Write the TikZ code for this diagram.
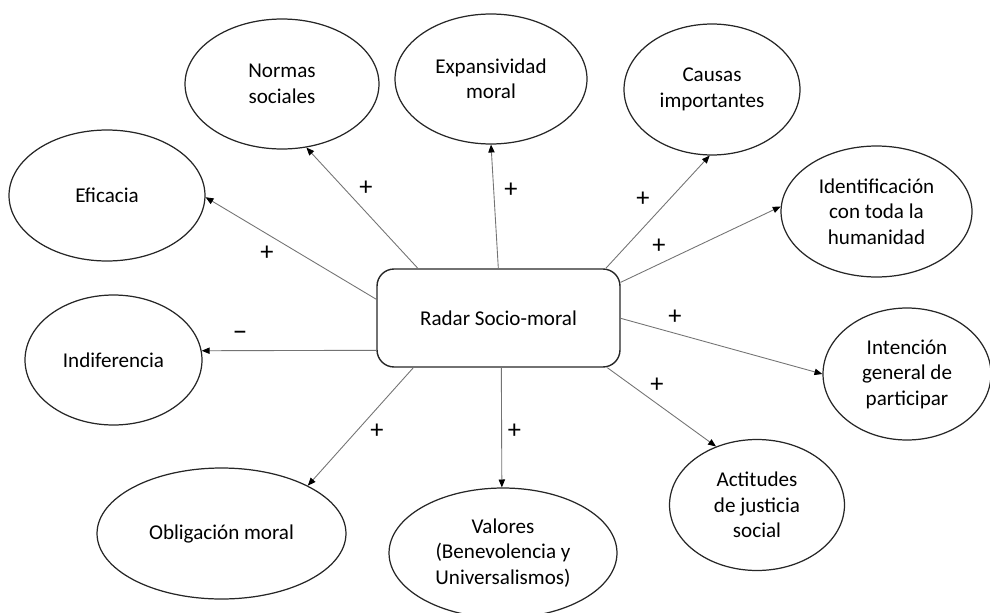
\documentclass[tikz,border=0pt]{standalone}
\usepackage{fontspec}
\setmainfont{Carlito}
\usetikzlibrary{arrows.meta,shapes.geometric,calc}
\begin{document}
\begin{tikzpicture}[x=0.02cm,y=-0.02cm,
  every node/.style={font=\fontsize{12}{14.5}\selectfont},
  bubble/.style={ellipse,draw=black!85,line width=0.7pt,inner sep=0pt,align=center},
  hub/.style={rectangle,rounded corners=0.34cm,draw=black!85,line width=0.8pt,
    minimum width=4.86cm,minimum height=1.96cm,inner sep=0pt},
  link/.style={draw=black!55,line width=0.5pt,
    -{Triangle[length=4.5pt,width=3.6pt,color=black]}},
  sign/.style={font=\fontsize{15}{15}\selectfont,inner sep=0pt},
  minus/.style={font=\fontsize{17}{17}\selectfont,inner sep=0pt}]
\useasboundingbox (0,0) rectangle (990,612);

% hub
\node[hub] (box) at (498.5,318) {Radar Socio-moral};

% surrounding ellipses
\node[bubble,minimum width=3.88cm,minimum height=2.6cm]  (normas) at (282,84)    {Normas\\sociales};
\node[bubble,minimum width=3.84cm,minimum height=2.6cm]  (expan)  at (491,79)    {Expansividad\\moral};
\node[bubble,minimum width=3.52cm,minimum height=2.62cm] (causas) at (712,89.5)  {Causas\\importantes};
\node[bubble,minimum width=3.92cm,minimum height=2.62cm] (efic)   at (107,195.5) {Eficacia};
\node[bubble,minimum width=3.82cm,minimum height=2.62cm] (ident)  at (876.5,211.5) {Identificación\\con toda la\\humanidad};
\node[bubble,minimum width=3.54cm,minimum height=2.6cm]  (indif)  at (113.5,360) {Indiferencia};
\node[bubble,minimum width=3.36cm,minimum height=2.64cm] (inten)  at (907,374)   {Intención\\general de\\participar};
\node[bubble,minimum width=3.5cm,minimum height=2.62cm]  (actit)  at (757,505)   {Actitudes\\de justicia\\social};
\node[bubble,minimum width=4.98cm,minimum height=2.62cm] (oblig)  at (221.5,533.5) {Obligación moral};
\node[bubble,minimum width=4.56cm,minimum height=2.6cm]  (valor)  at (503,553)   {Valores\\(Benevolencia y\\Universalismos)};

% start points on the hub border
\coordinate (sNor) at ($(box.north west)+(41.5,0)$);
\coordinate (sExp) at ($(box.north west)+(122,0)$);
\coordinate (sCau) at ($(box.north west)+(229.5,0)$);
\coordinate (sIde) at ($(box.north east)+(0,14)$);
\coordinate (sInt) at ($(box.north east)+(0,50)$);
\coordinate (sAct) at ($(box.south west)+(231,0)$);
\coordinate (sVal) at ($(box.south west)+(125,0)$);
\coordinate (sObl) at ($(box.south west)+(37,0)$);
\coordinate (sInd) at ($(box.north west)+(0,82)$);
\coordinate (sEfi) at ($(box.north west)+(0,31)$);

% connectors
\draw[link] (sNor) -- (normas.-69);
\draw[link] (sExp) -- (expan.-90);
\draw[link] (sCau) -- (causas.-92);
\draw[link] (sIde) -- (ident.177.6);
\draw[link] (sInt) -- (inten.180);
\draw[link] (sAct) -- (actit.125.7);
\draw[link] (sVal) -- (valor.91);
\draw[link] (sObl) -- (oblig.29.6);
\draw[link] (sInd) -- (indif.6.1);
\draw[link] (sEfi) -- (efic.-1.2);

% signs
\node[sign] (pEfi) at (267,253) {+};
\node[sign] (pNor) at (366,188) {+};
\node[sign] (pExp) at (511,190) {+};
\node[sign] (pCau) at (643,199) {+};
\node[sign] (pIde) at (659,246) {+};
\node[sign] (pInt) at (675,317) {+};
\node[sign] (pAct) at (657,385) {+};
\node[sign] (pVal) at (514.5,431) {+};
\node[sign] (pObl) at (377,431) {+};
\node[minus] (mInd) at (240,336) {–};
\end{tikzpicture}
\end{document}
